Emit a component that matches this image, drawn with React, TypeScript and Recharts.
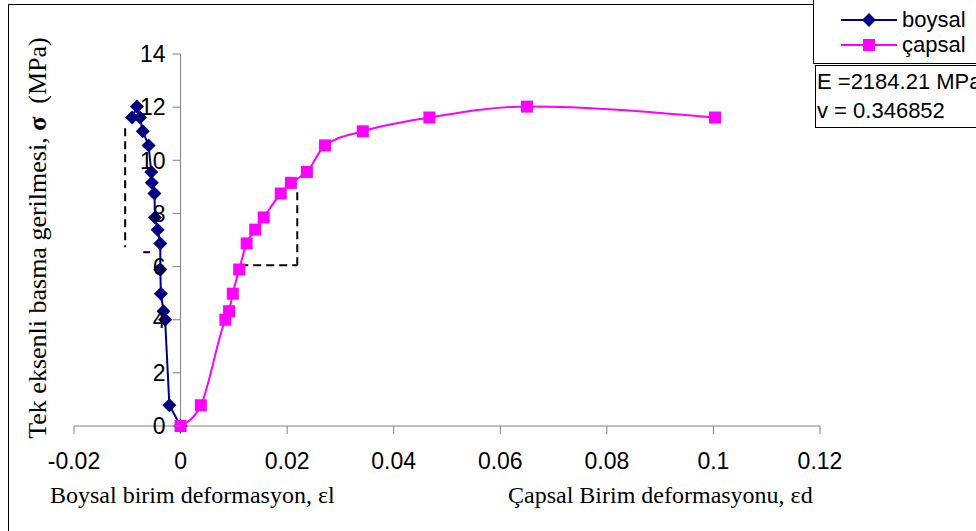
import React from 'react';
import { LineChart, Line, XAxis, YAxis, ReferenceLine, Legend } from 'recharts';

// Stress levels shared by both strain series (MPa)
const STRESS = [0, 0.78, 4.0, 4.32, 4.98, 5.89, 6.87, 7.39, 7.85, 8.75, 9.15, 9.56, 10.56, 11.09, 11.61, 12.02, 11.61];
const BOYSAL_STRAIN = [0, -0.0021, -0.0029, -0.0032, -0.0037, -0.0038, -0.0038, -0.0043, -0.0048, -0.0049, -0.0054, -0.0055, -0.006, -0.0071, -0.0076, -0.0082, -0.0091];
const CAPSAL_STRAIN = [0, 0.0038, 0.0084, 0.0091, 0.0098, 0.011, 0.0124, 0.014, 0.0156, 0.0188, 0.0207, 0.0237, 0.0271, 0.0342, 0.0467, 0.065, 0.1003];

const X_TICKS = [-0.02, 0, 0.02, 0.04, 0.06, 0.08, 0.1, 0.12];
const Y_TICKS = [0, 2, 4, 6, 8, 10, 12, 14];

const E_MODULUS = '2184.21';
const POISSON = '0.346852';

// dashed construction lines (data coords)
const GUIDES = [
  [{ x: -0.0104, y: 11.21 }, { x: -0.0104, y: 6.73 }],
  [{ x: -0.007, y: 6.54 }, { x: -0.0057, y: 6.54 }],
  [{ x: 0.0112, y: 6.05 }, { x: 0.0219, y: 6.05 }],
  [{ x: 0.0219, y: 6.05 }, { x: 0.0219, y: 8.82 }],
];

const boysal = STRESS.map((y, i) => ({ x: BOYSAL_STRAIN[i], y }));
const capsal = STRESS.map((y, i) => ({ x: CAPSAL_STRAIN[i], y }));

const W = 976;
const H = 531;
const MARGIN = { top: 54, right: 156, bottom: 75, left: 73 };
const PLOT_LEFT = MARGIN.left + 1;
const PLOT_W = W - PLOT_LEFT - MARGIN.right;
const X_MIN = X_TICKS[0];
const X_MAX = X_TICKS[X_TICKS.length - 1];
const ZERO_X = PLOT_LEFT + (PLOT_W * (0 - X_MIN)) / (X_MAX - X_MIN);

const SANS = '"Liberation Sans", Arial, sans-serif';
const SERIF = '"Liberation Serif", "Times New Roman", serif';
const AXIS = '#808080';
const NAVY = '#000080';
const MAGENTA = '#FF00FF';

const Diamond = (props: any) => {
  const { cx, cy } = props;
  if (cx == null || cy == null) return null;
  return <path d={`M${cx},${cy - 7}L${cx + 7},${cy}L${cx},${cy + 7}L${cx - 7},${cy}Z`} fill={NAVY} />;
};

const Square = (props: any) => {
  const { cx, cy } = props;
  if (cx == null || cy == null) return null;
  return <rect x={cx - 6} y={cy - 6} width={12} height={12} fill={MAGENTA} />;
};

// y axis drawn where x = 0
const YTick = (props: any) => {
  const { y, payload } = props;
  return (
    <g>
      <line x1={ZERO_X - 8} x2={ZERO_X} y1={y} y2={y} stroke={AXIS} />
      <text x={ZERO_X - 15} y={y} dy="0.36em" textAnchor="end" fontFamily={SANS} fontSize={23} fill="#000">
        {payload.value}
      </text>
    </g>
  );
};

const YTitle = () => (
  <text
    x={46}
    y={238}
    transform="rotate(-90, 46, 238)"
    textAnchor="middle"
    fontFamily={SERIF}
    fontSize={26}
    fill="#000"
    style={{ whiteSpace: 'pre' }}
  >
    Tek eksenli basma gerilmesi, <tspan fontWeight="bold">σ</tspan>{'  (MPa)'}
  </text>
);

const XTitles = () => (
  <g fontFamily={SERIF} fontSize={24} fill="#000" style={{ whiteSpace: 'pre' }}>
    <text x={50} y={503}>Boysal birim deformasyon, εl</text>
    <text x={508} y={503}>{'Çapsal Birim  deformasyonu, εd'}</text>
  </g>
);

const LegendBox = (props: any) => {
  const items = props.payload ?? [];
  return (
    <div
      style={{
        width: 170,
        height: 64,
        boxSizing: 'border-box',
        borderLeft: '1px solid #000',
        borderBottom: '1px solid #000',
        background: '#fff',
        paddingTop: 7,
        fontFamily: SANS,
        fontSize: 22,
      }}
    >
      {items.map((entry: any) => (
        <div key={entry.value} style={{ display: 'flex', alignItems: 'center', height: 25, paddingLeft: 27 }}>
          <svg width={56} height={16} style={{ marginRight: 5 }}>
            <line x1={0} x2={56} y1={8} y2={8} stroke={entry.color} strokeWidth={2} />
            {entry.value === 'boysal' ? (
              <path d="M28,1L35,8L28,15L21,8Z" fill={entry.color} />
            ) : (
              <rect x={22} y={2} width={12} height={12} fill={entry.color} />
            )}
          </svg>
          <span style={{ lineHeight: '25px' }}>{entry.value}</span>
        </div>
      ))}
    </div>
  );
};

export default function App() {
  return (
    <div style={{ position: 'absolute', left: 0, top: 0, width: W, height: H, background: '#fff', overflow: 'hidden' }}>
      <div
        style={{
          position: 'absolute',
          left: 8,
          top: 4,
          width: W,
          height: H,
          borderLeft: '1px solid #000',
          borderTop: '1px solid #000',
        }}
      />
      <div style={{ position: 'absolute', left: 0, top: 0 }}>
        <LineChart width={W} height={H} margin={MARGIN}>
          <XAxis
            dataKey="x"
            type="number"
            domain={[X_MIN, X_MAX]}
            ticks={X_TICKS}
            interval={0}
            height={30}
            stroke={AXIS}
            tickSize={8}
            tickMargin={19}
            tick={{ fill: '#000', fontSize: 23, fontFamily: SANS }}
            tickFormatter={(v: number) => String(v)}
            label={<XTitles />}
          />
          <YAxis
            dataKey="y"
            type="number"
            domain={[0, 14]}
            ticks={Y_TICKS}
            interval={0}
            width={1}
            axisLine={false}
            tickLine={false}
            tickSize={0}
            tickMargin={0}
            tick={<YTick />}
            label={<YTitle />}
          />
          <ReferenceLine x={0} stroke={AXIS} strokeWidth={1} />
          {GUIDES.map((seg, i) => (
            <ReferenceLine key={i} segment={seg} stroke="#000" strokeWidth={2} strokeDasharray="8 5" />
          ))}
          <Legend
            layout="vertical"
            align="center"
            verticalAlign="middle"
            wrapperStyle={{ left: 813, top: 0, width: 170, height: 64 }}
            content={<LegendBox />}
          />
          <Line
            data={boysal}
            dataKey="y"
            name="boysal"
            type="linear"
            stroke={NAVY}
            strokeWidth={2}
            dot={<Diamond />}
            activeDot={false}
            isAnimationActive={false}
          />
          <Line
            data={capsal}
            dataKey="y"
            name="çapsal"
            type="monotone"
            stroke={MAGENTA}
            strokeWidth={2}
            dot={<Square />}
            activeDot={false}
            isAnimationActive={false}
          />
        </LineChart>
      </div>
      <div
        style={{
          position: 'absolute',
          left: 815,
          top: 65,
          width: 170,
          height: 63,
          boxSizing: 'border-box',
          border: '1px solid #000',
          background: '#fff',
          paddingTop: 1,
          paddingLeft: 1,
          fontFamily: SANS,
          fontSize: 22,
          lineHeight: '29px',
          whiteSpace: 'pre',
        }}
      >
        <div>{`E =${E_MODULUS} MPa`}</div>
        <div>{`v = ${POISSON}`}</div>
      </div>
    </div>
  );
}
